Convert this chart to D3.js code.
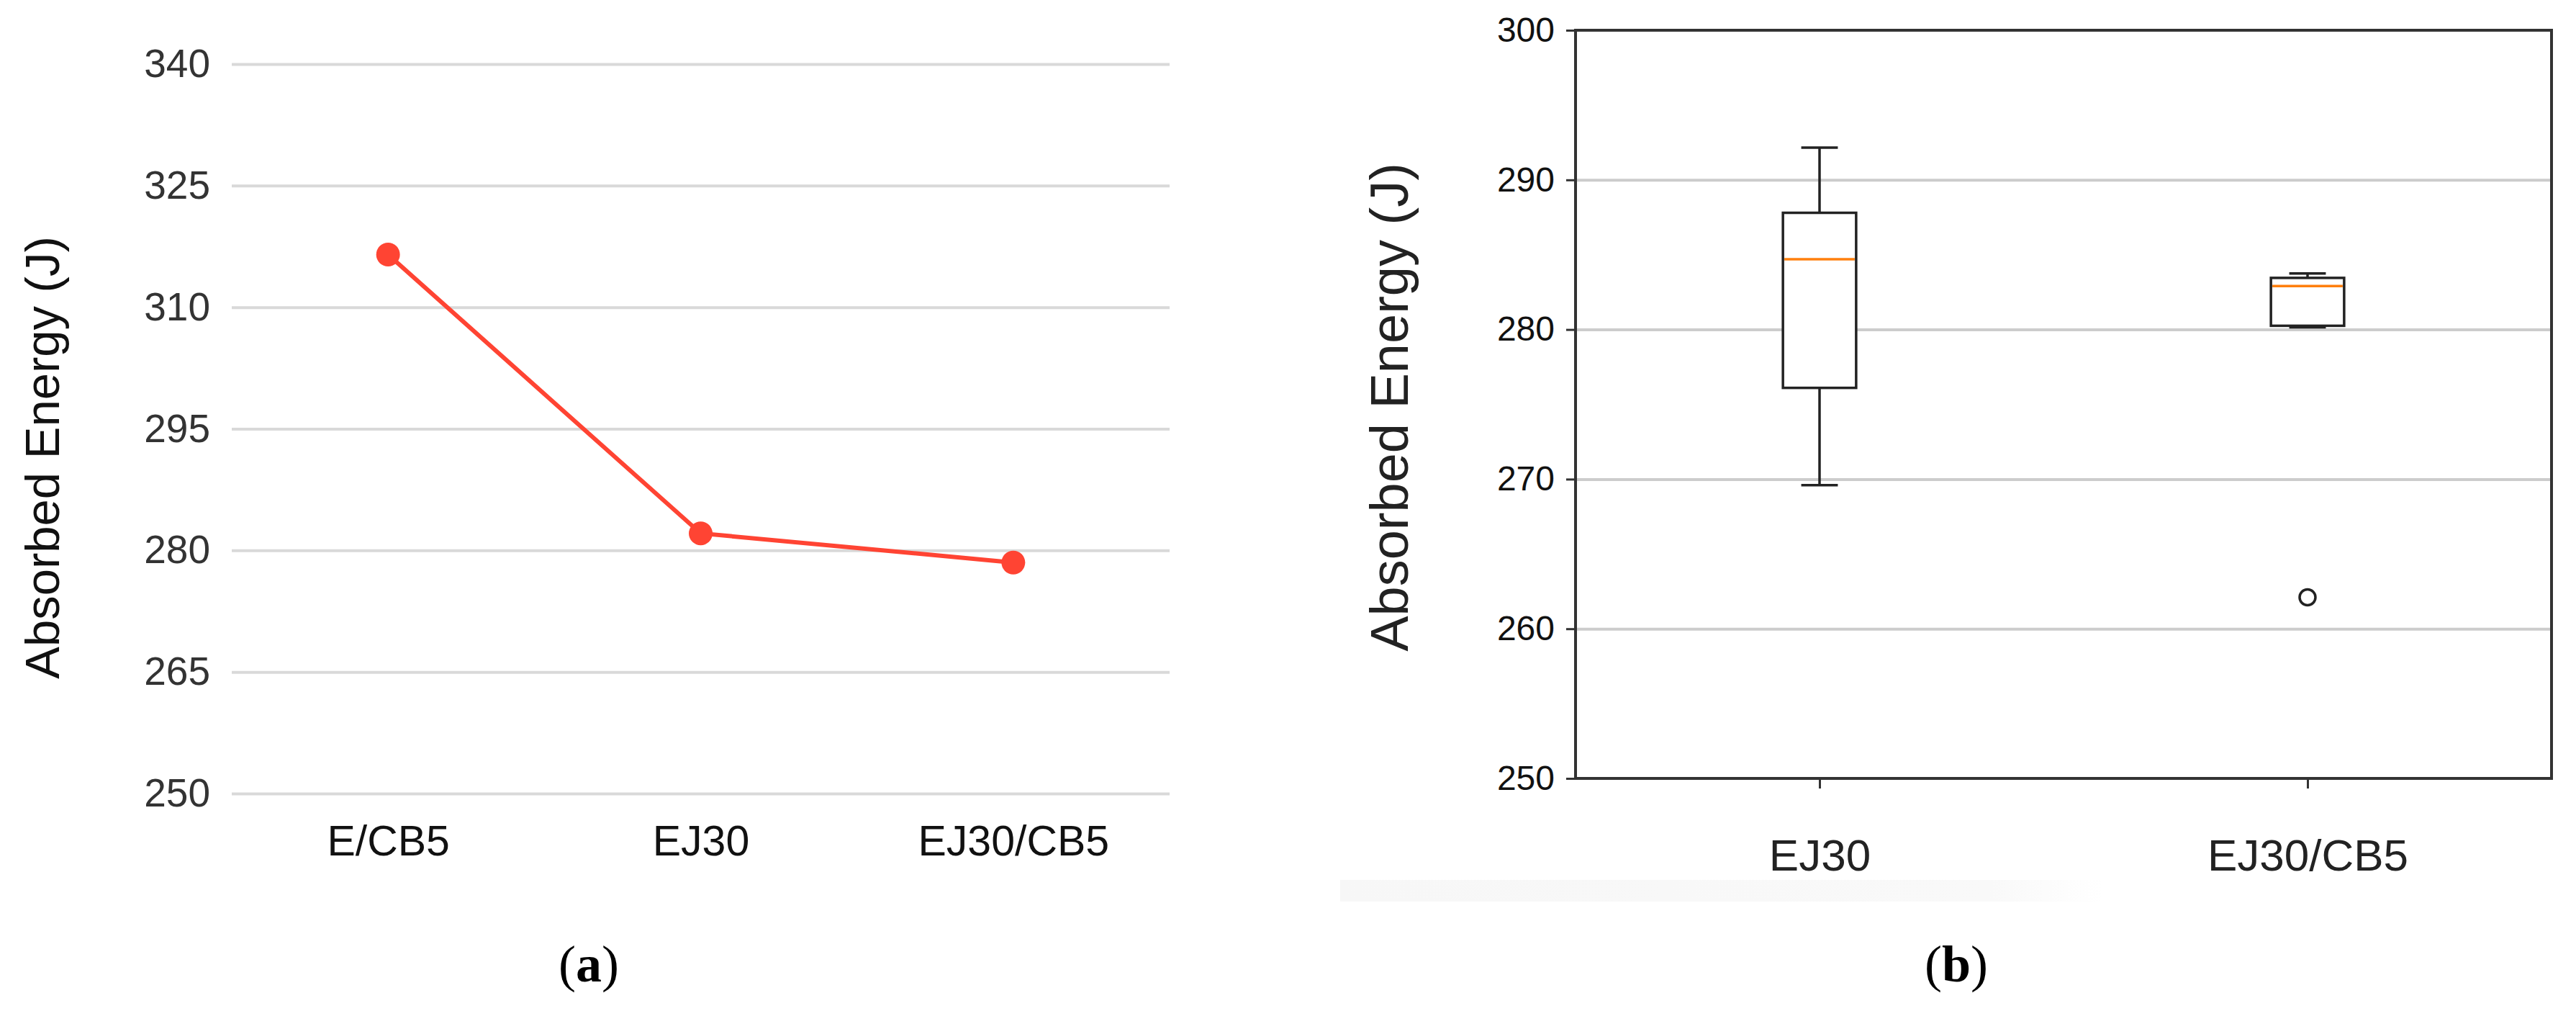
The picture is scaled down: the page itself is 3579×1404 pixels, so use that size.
<!DOCTYPE html>
<html>
<head>
<meta charset="utf-8">
<script src="https://cdn.jsdelivr.net/npm/d3@7"></script>
<style>
  body { margin: 0; background: #fff; }
  text { font-family: "Liberation Sans", Arial, sans-serif; }
</style>
</head>
<body>
<div id="chart"></div>
<script>
// Panel (a): line chart values
const lineCats = ["E/CB5", "EJ30", "EJ30/CB5"];
const lineVals = [316.5, 282.1, 278.5];
const lineTicks = [250, 265, 280, 295, 310, 325, 340];

// Panel (b): box plot summary values
const boxCats = ["EJ30", "EJ30/CB5"];
const boxWhiskLo = [269.6, 280.15];
const boxQ1 = [276.1, 280.25];
const boxMed = [284.7, 282.9];
const boxQ3 = [287.8, 283.45];
const boxWhiskHi = [292.15, 283.75];
const boxOutliers = [[], [262.1]];
const boxTicks = [250, 260, 270, 280, 290, 300];
const boxGrid = [260, 270, 280, 290];

let WIDTH = 3579, HEIGHT = 1404;

let svg = d3.select("#chart")
    .append("svg")
    .attr("width", WIDTH)
    .attr("height", HEIGHT);

/* ---------- panel (a) ---------- */
const aLeft = 322, aRight = 1625, aTop = 89, aBottom = 1102;

const xA = d3.scalePoint().domain(lineCats).range([aLeft, aRight]).padding(0.5);
const yA = d3.scaleLinear().domain([250, 340]).range([aBottom, aTop]);

let gA = svg.append("g");

// gridlines + tick labels
let yAxisA = gA.append("g")
    .attr("transform", `translate(${aLeft},0)`)
    .call(d3.axisLeft(yA).tickValues(lineTicks).tickSize(-(aRight - aLeft)).tickPadding(30));
yAxisA.select(".domain").remove();
yAxisA.selectAll(".tick line").attr("stroke", "#d9d9d9").attr("stroke-width", 4);
yAxisA.selectAll(".tick text")
    .attr("fill", "#333")
    .style("font-size", "55px");

let xAxisA = gA.append("g")
    .attr("transform", `translate(0,${aBottom})`)
    .call(d3.axisBottom(xA).tickSize(0).tickPadding(44));
xAxisA.select(".domain").remove();
xAxisA.selectAll(".tick text")
    .attr("fill", "#111")
    .style("font-size", "59px");

// the line and its dots
const lineGen = d3.line()
    .x((d, i) => xA(lineCats[i]))
    .y(d => yA(d));

gA.append("path")
    .datum(lineVals)
    .attr("d", lineGen)
    .attr("fill", "none")
    .attr("stroke", "#ff4433")
    .attr("stroke-width", 6);

gA.selectAll("circle.pt")
    .data(lineVals)
    .enter()
    .append("circle")
    .attr("class", "pt")
    .attr("cx", (d, i) => xA(lineCats[i]))
    .attr("cy", d => yA(d))
    .attr("r", 16.5)
    .attr("fill", "#ff4433");

gA.append("text")
    .attr("transform", `translate(82,${(aTop + aBottom) / 2 + 40}) rotate(-90)`)
    .attr("text-anchor", "middle")
    .attr("fill", "#111")
    .style("font-size", "67px")
    .text("Absorbed Energy (J)");

/* ---------- panel (b) ---------- */
const bLeft = 2189, bRight = 3545, bTop = 42, bBottom = 1081;

const xB = d3.scaleLinear().domain([0.5, 2.5]).range([bLeft, bRight]);
const yB = d3.scaleLinear().domain([250, 300]).range([bBottom, bTop]);

let gB = svg.append("g");

// very faint gray strip beneath the labels
let fade = svg.append("defs").append("linearGradient")
    .attr("id", "fade").attr("x1", 0).attr("x2", 1).attr("y1", 0).attr("y2", 0);
fade.append("stop").attr("offset", "0%").attr("stop-color", "#f7f7f7");
fade.append("stop").attr("offset", "85%").attr("stop-color", "#f9f9f9");
fade.append("stop").attr("offset", "100%").attr("stop-color", "#ffffff");
gB.append("rect")
    .attr("x", 1862).attr("y", 1222)
    .attr("width", 1060).attr("height", 30)
    .attr("fill", "url(#fade)");

// gridlines
let gridB = gB.append("g")
    .attr("transform", `translate(${bLeft},0)`)
    .call(d3.axisLeft(yB).tickValues(boxGrid).tickSize(-(bRight - bLeft)).tickFormat(""));
gridB.select(".domain").remove();
gridB.selectAll(".tick line").attr("stroke", "#cccccc").attr("stroke-width", 4);

// y axis ticks + labels
let yAxisB = gB.append("g")
    .attr("transform", `translate(${bLeft},0)`)
    .call(d3.axisLeft(yB).tickValues(boxTicks).tickSize(13).tickPadding(16));
yAxisB.select(".domain").remove();
yAxisB.selectAll(".tick line").attr("stroke", "#333").attr("stroke-width", 3);
yAxisB.selectAll(".tick text")
    .attr("fill", "#111")
    .style("font-size", "48px");

// x axis ticks + labels
let xAxisB = gB.append("g")
    .attr("transform", `translate(0,${bBottom})`)
    .call(d3.axisBottom(xB).tickValues([1, 2]).tickSize(14).tickPadding(70)
        .tickFormat((d, i) => boxCats[i]));
xAxisB.select(".domain").remove();
xAxisB.selectAll(".tick line").attr("stroke", "#333").attr("stroke-width", 3);
xAxisB.selectAll(".tick text")
    .attr("fill", "#222")
    .style("font-size", "62px");

// frame
gB.append("rect")
    .attr("x", bLeft).attr("y", bTop)
    .attr("width", bRight - bLeft).attr("height", bBottom - bTop)
    .attr("fill", "none")
    .attr("stroke", "#333")
    .attr("stroke-width", 4);

// boxes
const boxHalf = (xB(1.075) - xB(1));
const capHalf = boxHalf / 2;

boxCats.forEach((c, i) => {
    const cx = xB(i + 1);
    let g = gB.append("g");
    // whiskers
    g.append("line")
        .attr("x1", cx).attr("x2", cx)
        .attr("y1", yB(boxQ1[i])).attr("y2", yB(boxWhiskLo[i]))
        .attr("stroke", "#222").attr("stroke-width", 3.5);
    g.append("line")
        .attr("x1", cx).attr("x2", cx)
        .attr("y1", yB(boxQ3[i])).attr("y2", yB(boxWhiskHi[i]))
        .attr("stroke", "#222").attr("stroke-width", 3.5);
    // caps
    [boxWhiskLo[i], boxWhiskHi[i]].forEach(v => {
        g.append("line")
            .attr("x1", cx - capHalf).attr("x2", cx + capHalf)
            .attr("y1", yB(v)).attr("y2", yB(v))
            .attr("stroke", "#222").attr("stroke-width", 3.5);
    });
    // box
    g.append("rect")
        .attr("x", cx - boxHalf).attr("width", boxHalf * 2)
        .attr("y", yB(boxQ3[i])).attr("height", yB(boxQ1[i]) - yB(boxQ3[i]))
        .attr("fill", "#fff")
        .attr("stroke", "#222").attr("stroke-width", 3.5);
    // median
    g.append("line")
        .attr("x1", cx - boxHalf + 2).attr("x2", cx + boxHalf - 2)
        .attr("y1", yB(boxMed[i])).attr("y2", yB(boxMed[i]))
        .attr("stroke", "#ff7f0e").attr("stroke-width", 3.5);
    // outliers
    g.selectAll("circle")
        .data(boxOutliers[i])
        .enter()
        .append("circle")
        .attr("cx", cx)
        .attr("cy", d => yB(d))
        .attr("r", 11)
        .attr("fill", "none")
        .attr("stroke", "#222")
        .attr("stroke-width", 3.5);
});

gB.append("text")
    .attr("transform", `translate(1956,${(bTop + bBottom) / 2 + 4}) rotate(-90)`)
    .attr("text-anchor", "middle")
    .attr("fill", "#222")
    .style("font-size", "74px")
    .text("Absorbed Energy (J)");

/* ---------- captions ---------- */
const captions = [{ x: 818, l: "a" }, { x: 2718, l: "b" }];
captions.forEach(c => {
    let t = svg.append("text")
        .attr("x", c.x).attr("y", 1363)
        .attr("text-anchor", "middle")
        .style("font-family", "'Liberation Serif', 'Times New Roman', serif")
        .style("font-size", "72px")
        .attr("fill", "#000");
    t.append("tspan").text("(");
    t.append("tspan").attr("font-weight", "bold").text(c.l);
    t.append("tspan").text(")");
});
</script>
</body>
</html>
